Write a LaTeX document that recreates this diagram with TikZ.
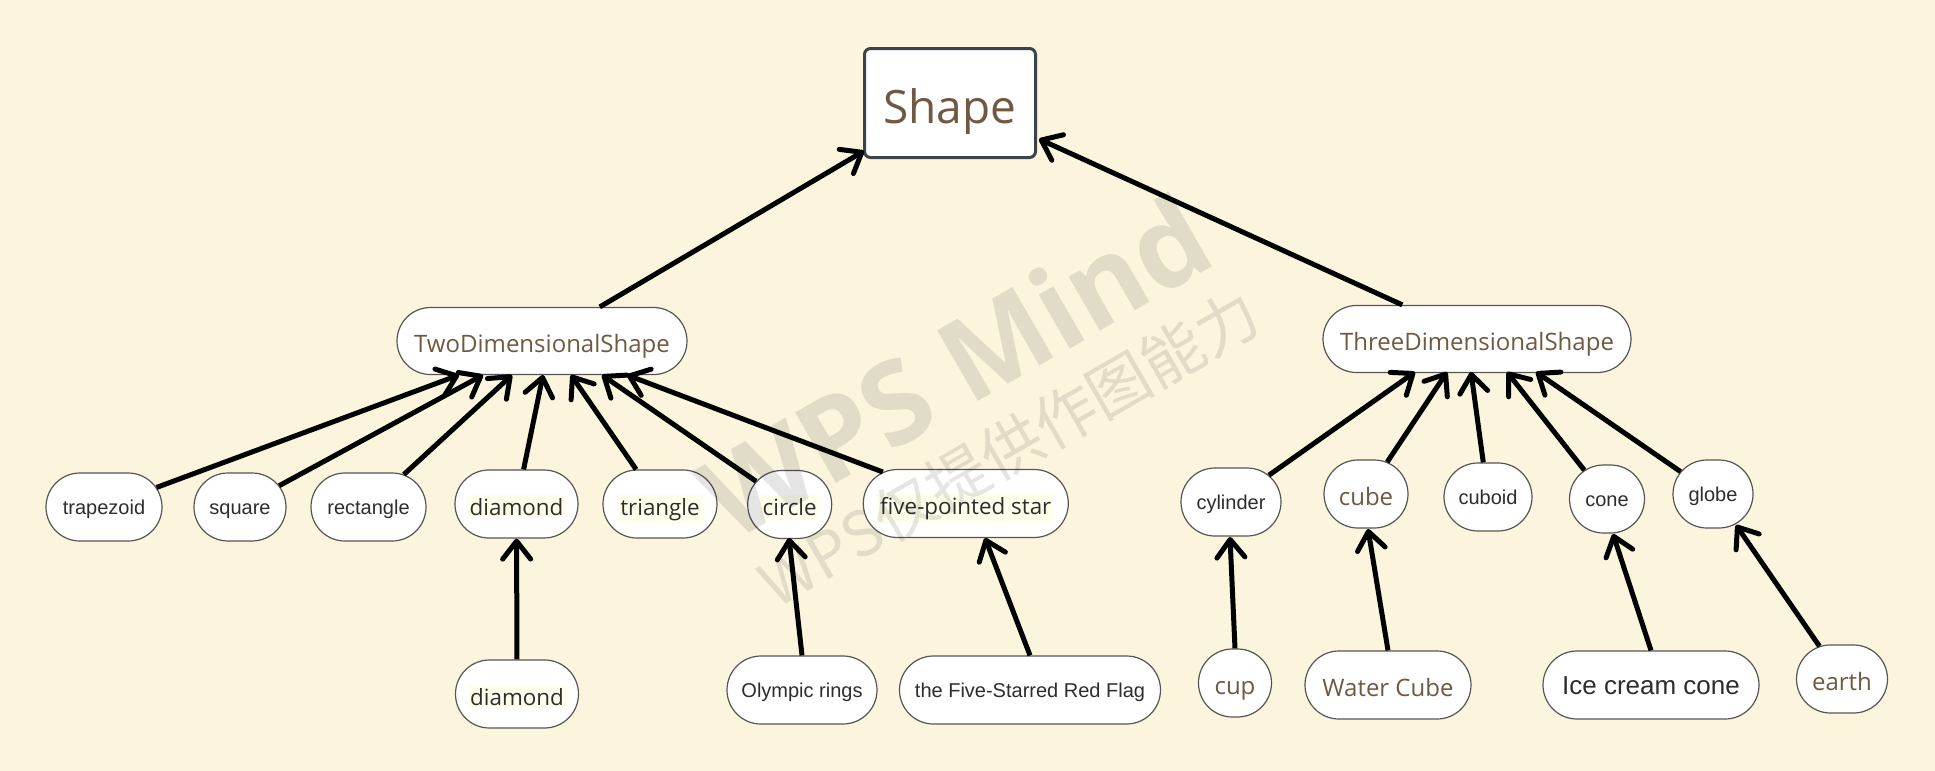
\documentclass[tikz,border=0pt]{standalone}
\usepackage{fontspec}
\setmainfont{Open Sans}
\newfontfamily\arialf{Liberation Sans}
\newfontfamily\cjkf{Noto Sans CJK SC}
\usetikzlibrary{shapes.misc,arrows.meta,calc}
\definecolor{bgc}{RGB}{251,245,222}
\definecolor{brownc}{RGB}{112,89,66}
\definecolor{darkc}{RGB}{45,45,45}
\definecolor{borderc}{RGB}{85,85,85}
\definecolor{shapebc}{RGB}{58,66,74}
\definecolor{hlc}{RGB}{255,254,234}
\setlength{\fboxsep}{1.5pt}
\newcommand{\hlt}[1]{\colorbox{hlc}{#1}}
\begin{document}
\begin{tikzpicture}[x=0.5pt,y=-0.5pt,
  nd/.style={rounded rectangle, draw=borderc, line width=0.6pt, fill=white, inner sep=0pt,
             minimum height=34pt, font=\arialf\fontsize{10}{12}\selectfont, text=darkc,
             text height=7.5pt, text depth=0pt},
  brn/.style={nd, font=\fontsize{12}{14}\selectfont, text=brownc, text height=11.5pt},
  hln/.style={nd, font=\fontsize{11.2}{13}\selectfont, text=darkc, text height=11pt},
  arr/.style={line width=2.5pt, -{Straight Barb[length=9pt,width=14pt,round]}},
  wm/.style={text=black, text opacity=0.1, rotate=30}]
\fill[bgc] (0,0) rectangle (1935,771);
\useasboundingbox (0,0) rectangle (1935,771);

% root
\node[draw=shapebc, line width=1.5pt, rounded corners=3pt, fill=white, inner sep=0pt,
      minimum width=85.5pt, minimum height=54.5pt, text=brownc,
      text height=20pt, text depth=0pt,
      font=\fontsize{23}{26}\selectfont] (shape) at (950,103) {Shape};

% level 1
\node[brn, minimum width=145pt, minimum height=33.5pt] (two) at (542,341) {TwoDimensionalShape};
\node[brn, minimum width=154pt, minimum height=33.5pt] (three) at (1477,339) {ThreeDimensionalShape};

% level 2 (2D)
\node[nd, minimum width=58pt] (trap) at (104,507) {trapezoid};
\node[nd, minimum width=46pt] (square) at (240,507) {square};
\node[nd, minimum width=57.5pt] (rect) at (368.5,507) {rectangle};
\node[hln, minimum width=61.5pt] (dia) at (516.5,504) {\hlt{diamond}};
\node[hln, minimum width=57pt] (tri) at (660,504) {\hlt{triangle}};
\node[hln, minimum width=42pt] (circ) at (789.7,504.5) {\hlt{circle}};
\node[hln, minimum width=102.5pt] (star) at (965.8,503.5) {\hlt{five-pointed star}};

% level 2 (3D)
\node[nd, minimum width=50pt] (cyl) at (1231,502) {cylinder};
\node[brn, minimum width=42pt] (cube) at (1366,494) {cube};
\node[nd, minimum width=44pt] (cuboid) at (1488,497) {cuboid};
\node[nd, minimum width=37.5pt] (cone) at (1607,499) {cone};
\node[nd, minimum width=40pt] (globe) at (1713,494) {globe};

% level 3
\node[hln, minimum width=61.5pt] (dia2) at (517,694) {\hlt{diamond}};
\node[nd, minimum width=75pt] (olym) at (802,690) {Olympic rings};
\node[nd, minimum width=130.5pt] (flag) at (1030,690) {the Five-Starred Red Flag};
\node[brn, minimum width=36.5pt] (cup) at (1235,683) {cup};
\node[brn, minimum width=83pt] (water) at (1388,685) {Water Cube};
\node[nd, minimum width=108pt, font=\arialf\fontsize{13}{15}\selectfont, text height=9.8pt] (ice) at (1651,685) {Ice cream cone};
\node[brn, minimum width=45.5pt] (earth) at (1842,679) {earth};

% arrow targets
\coordinate (tshapeL) at (864,151);
\coordinate (tshapeR) at (1039,139);
\coordinate (ta1) at (459,375);
\coordinate (ta2) at (483,375);
\coordinate (ta3) at (512,375);
\coordinate (ta4) at (543,375);
\coordinate (ta5) at (571,375);
\coordinate (ta6) at (602,375);
\coordinate (ta7) at (627,375);
\coordinate (tb1) at (1415,372);
\coordinate (tb2) at (1447,372);
\coordinate (tb3) at (1471,372);
\coordinate (tb4) at (1507,372);
\coordinate (tb5) at (1536,372);
\coordinate (tc2) at (789,538);
\coordinate (tc3) at (985,538);
\coordinate (tc4) at (1230,537);
\coordinate (tc5) at (1368,529);
\coordinate (tc6) at (1613,534);
\coordinate (tc7) at (1736,525);

% connectors
\draw[arr] (two) -- (tshapeL);
\draw[arr] (three) -- (tshapeR);
\draw[arr] (trap) -- (ta1);
\draw[arr] (square) -- (ta2);
\draw[arr] (rect) -- (ta3);
\draw[arr] (dia) -- (ta4);
\draw[arr] (tri) -- (ta5);
\draw[arr] (circ) -- (ta6);
\draw[arr] (star) -- (ta7);
\draw[arr] (cyl) -- (tb1);
\draw[arr] (cube) -- (tb2);
\draw[arr] (cuboid) -- (tb3);
\draw[arr] (cone) -- (tb4);
\draw[arr] (globe) -- (tb5);
\draw[arr] (dia2) -- (dia);
\draw[arr] (olym.north) -- (tc2);
\draw[arr] (flag.north) -- (tc3);
\draw[arr] (cup.north) -- (tc4);
\draw[arr] (water.north) -- (tc5);
\draw[arr] (ice.north) -- (tc6);
\draw[arr] (earth) -- (tc7);

% watermark
\node[wm, anchor=base east, inner sep=0pt, font=\bfseries\fontsize{57}{60}\selectfont] (wm1) at (1220,262) {WPS Mind};
\node[wm, anchor=center, inner sep=0pt, font=\cjkf\fontsize{31}{34}\selectfont] (wm2) at (1009,448) {WPS仅提供作图能力};
\end{tikzpicture}
\end{document}
